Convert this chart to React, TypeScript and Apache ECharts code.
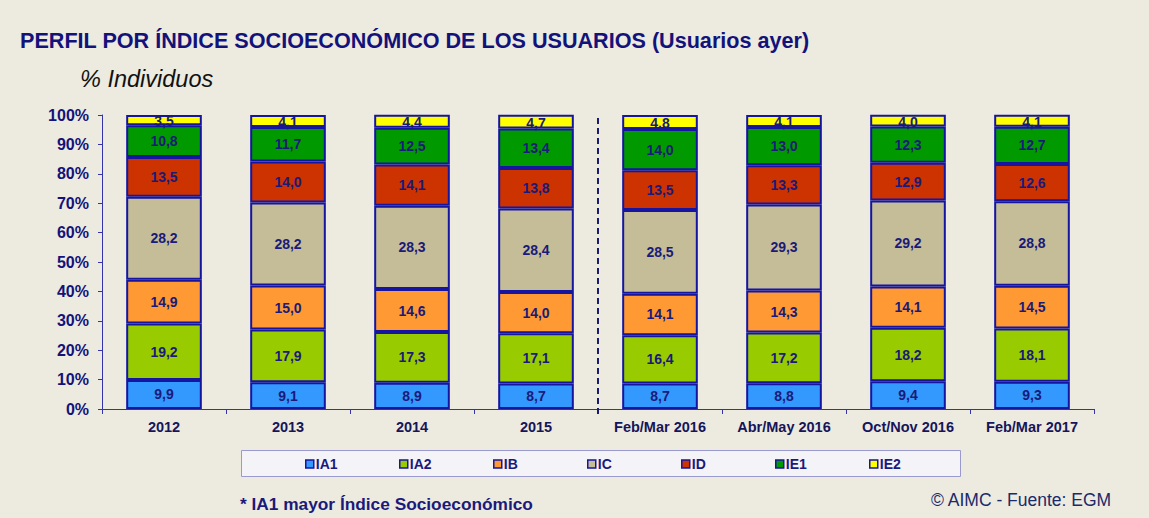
import React, { useEffect, useRef } from "react";
import * as echarts from "echarts";

const categories = ["2012", "2013", "2014", "2015", "Feb/Mar 2016", "Abr/May 2016", "Oct/Nov 2016", "Feb/Mar 2017"];
const seriesNames = ["IA1", "IA2", "IB", "IC", "ID", "IE1", "IE2"];
const IA1 = [9.9, 9.1, 8.9, 8.7, 8.7, 8.8, 9.4, 9.3];
const IA2 = [19.2, 17.9, 17.3, 17.1, 16.4, 17.2, 18.2, 18.1];
const IB = [14.9, 15.0, 14.6, 14.0, 14.1, 14.3, 14.1, 14.5];
const IC = [28.2, 28.2, 28.3, 28.4, 28.5, 29.3, 29.2, 28.8];
const ID = [13.5, 14.0, 14.1, 13.8, 13.5, 13.3, 12.9, 12.6];
const IE1 = [10.8, 11.7, 12.5, 13.4, 14.0, 13.0, 12.3, 12.7];
const IE2 = [3.5, 4.1, 4.4, 4.7, 4.8, 4.1, 4.0, 4.1];
const seriesValues = [IA1, IA2, IB, IC, ID, IE1, IE2];
const colors = ["#3399FF", "#99CC00", "#FF9933", "#C4BD97", "#CC3300", "#009900", "#FFFF00"];
const yTicks = [0, 10, 20, 30, 40, 50, 60, 70, 80, 90, 100];
const dividerX = 4;
const dividerY = [99, -2];

const NAVY = "#1a1a7a";
const FONT = "Liberation Sans, Arial, sans-serif";

export default function App() {
  const ref = useRef<HTMLDivElement>(null);
  useEffect(() => {
    if (!ref.current) return;
    const chart = echarts.init(ref.current, undefined, { renderer: "svg" });
    const bars = seriesNames.map((name, i) => ({
      name,
      type: "bar",
      stack: "total",
      barWidth: "61%",
      data: seriesValues[i],
      itemStyle: { color: colors[i], borderColor: "#1515a0", borderWidth: 2 },
      label: {
        show: true,
        position: "inside",
        formatter: (p: any) => Number(p.value).toFixed(1).replace(".", ","),
        color: NAVY,
        fontWeight: "bold",
        fontSize: 14,
        fontFamily: FONT,
        offset: i === 6 ? [0, 1] : [0, 0],
      },
      z: 3,
    }));
    const legends = seriesNames.map((name, i) => ({
      data: [name],
      left: 305 + i * 94,
      top: 457,
      padding: 0,
      itemWidth: 8,
      itemHeight: 8,
      itemGap: 0,
      icon: "rect",
      selectedMode: false,
      itemStyle: { borderColor: "#1515a0", borderWidth: 1.5 },
      textStyle: { color: NAVY, fontWeight: "bold", fontSize: 14, fontFamily: FONT, padding: [0, 0, 0, -3] },
    }));
    chart.setOption({
      animation: false,
      backgroundColor: "#EDEAE0",
      textStyle: { fontFamily: FONT },
      title: [
        {
          text: "PERFIL POR ÍNDICE SOCIOECONÓMICO DE LOS USUARIOS (Usuarios ayer)",
          left: 20,
          top: 29,
          padding: 0,
          textStyle: { color: "#12127a", fontSize: 21.6, fontWeight: "bold", fontFamily: FONT },
        },
        {
          text: "% Individuos",
          left: 80,
          top: 67,
          padding: 0,
          textStyle: { color: "#111", fontSize: 23.5, fontStyle: "italic", fontWeight: "normal", fontFamily: FONT },
        },
      ],
      legend: legends,
      graphic: [
        {
          type: "rect",
          z: 0,
          shape: { x: 241.5, y: 450.5, width: 719, height: 26 },
          style: { fill: "#F4F3F8", stroke: "#9a9ad0", lineWidth: 1 },
        },
        {
          type: "text",
          left: 240,
          top: 495,
          style: { text: "* IA1 mayor Índice Socioeconómico", fill: NAVY, font: `bold 17.3px ${FONT}` },
        },
        {
          type: "text",
          left: 931,
          top: 491,
          style: { text: "© AIMC - Fuente: EGM", fill: "#1a2a6a", font: `17.5px ${FONT}` },
        },
      ],
      grid: { left: 102, right: 55, top: 115, bottom: 109, containLabel: false },
      xAxis: [
        {
          type: "category",
          data: categories,
          axisLine: { show: true, lineStyle: { color: "#3333aa", width: 1 } },
          axisTick: { show: true, interval: 0, length: 5, lineStyle: { color: "#3333aa" } },
          axisLabel: { interval: 0, color: "#15155a", fontWeight: "bold", fontSize: 14.5, fontFamily: FONT, margin: 10 },
        },
        { type: "value", min: 0, max: 8, show: false },
      ],
      yAxis: {
        type: "value",
        min: 0,
        max: 100,
        interval: 10,
        axisLine: { show: true, lineStyle: { color: "#3333aa", width: 1 } },
        axisTick: { show: true, length: 4, lineStyle: { color: "#3333aa" } },
        splitLine: { show: false },
        axisLabel: {
          color: "#12127a",
          fontWeight: "bold",
          fontSize: 16,
          fontFamily: FONT,
          margin: 13,
          formatter: (v: number) => (yTicks.includes(v) ? `${v}%` : ""),
        },
      },
      series: [
        ...bars,
        {
          name: "divider",
          type: "line",
          xAxisIndex: 1,
          yAxisIndex: 0,
          data: [
            [dividerX, dividerY[0]],
            [dividerX, dividerY[1]],
          ],
          symbol: "none",
          clip: false,
          lineStyle: { color: "#1a1a6e", width: 2, type: [6, 4] },
          z: 2,
          silent: true,
        },
      ],
    });
    return () => chart.dispose();
  }, []);
  return <div ref={ref} style={{ width: 1149, height: 518, position: "absolute", left: 0, top: 0 }} />;
}
